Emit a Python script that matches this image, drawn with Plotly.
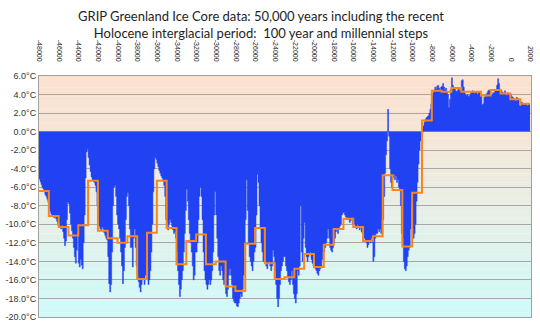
import plotly.graph_objects as go

# ---------------- data ----------------
start_year = -48000
step_years = 100

# 100-year mean temperatures (°C), one row per millennium
temp_100yr = [
    -5.1, -5.4, -5.7, -6.0, -6.2, -6.5, -6.8, -7.0, -7.3, -7.6,
    -8.2, -8.6, -8.9, -9.1, -9.0, -9.3, -9.1, -9.4, -9.7, -10.0,
    -9.8, -10.2, -10.5, -10.1, -10.8, -11.5, -12.3, -11.8, -9.5, -7.6,
    -7.8, -8.8, -10.0, -10.7, -11.5, -12.5, -13.5, -14.2, -12.8, -11.0,
    -14.2, -14.6, -13.8, -14.4, -14.8, -12.0, -9.0, -5.0, -2.2, -1.9,
    -2.8, -3.6, -4.3, -4.9, -5.2, -5.4, -5.5, -5.8, -6.5, -8.0,
    -9.6, -10.2, -10.5, -10.6, -10.3, -10.5, -10.9, -11.2, -11.5, -11.7,
    -13.5, -16.4, -17.3, -16.5, -13.0, -8.0, -6.0, -5.8, -7.0, -9.0,
    -10.0, -10.5, -11.5, -13.0, -14.5, -16.4, -15.0, -12.5, -9.5, -7.0,
    -6.6, -8.0, -10.5, -12.5, -12.5, -14.6, -11.5, -10.5, -12.5, -14.5,
    -15.5, -16.2, -16.8, -17.3, -16.5, -16.0, -15.8, -16.5, -15.5, -13.5,
    -16.0, -16.5, -16.0, -15.0, -13.0, -10.0, -6.5, -4.0, -2.8, -3.0,
    -3.4, -3.8, -4.2, -4.5, -4.8, -5.0, -5.3, -5.8, -7.0, -9.5,
    -9.8, -10.6, -10.0, -9.5, -9.8, -10.2, -10.6, -11.0, -10.8, -11.5,
    -13.0, -15.0, -16.5, -17.8, -17.0, -16.0, -15.0, -13.0, -11.0, -8.5,
    -6.2, -7.5, -9.5, -11.0, -12.0, -13.0, -14.5, -16.0, -15.5, -13.0,
    -13.0, -12.0, -9.5, -7.0, -6.0, -7.0, -9.5, -13.0, -15.0, -16.0,
    -16.5, -17.0, -16.5, -16.0, -16.5, -16.0, -15.0, -13.0, -9.0, -6.5,
    -9.0, -11.5, -13.5, -15.0, -15.5, -14.5, -15.0, -16.0, -16.5, -15.5,
    -17.5, -17.8, -17.0, -15.5, -14.8, -15.5, -16.5, -18.0, -18.3, -18.5,
    -18.5, -18.8, -18.9, -18.5, -18.0, -17.5, -17.8, -17.0, -15.5, -12.0,
    -9.5, -5.2, -8.5, -12.0, -13.5, -14.0, -14.5, -15.0, -14.0, -13.0,
    -12.5, -9.0, -4.6, -5.5, -8.0, -10.5, -12.0, -13.0, -14.0, -14.0,
    -14.0, -14.5, -14.8, -14.2, -14.0, -14.5, -15.0, -14.5, -12.8, -13.5,
    -15.0, -16.5, -18.0, -18.9, -18.0, -16.5, -15.0, -14.5, -14.0, -13.5,
    -13.5, -14.5, -15.0, -15.8, -16.2, -16.5, -16.0, -15.0, -16.5, -17.5,
    -18.0, -18.5, -17.5, -15.0, -15.5, -14.5, -8.0, -13.0, -14.0, -11.5,
    -9.8, -12.5, -13.5, -14.0, -13.5, -13.2, -13.0, -13.8, -14.2, -14.5,
    -14.2, -14.8, -15.0, -15.3, -15.5, -15.0, -14.8, -14.5, -13.8, -13.0,
    -13.0, -12.5, -12.0, -11.5, -10.5, -11.5, -12.5, -12.8, -13.0, -12.5,
    -12.0, -11.5, -10.8, -10.5, -11.0, -10.5, -10.2, -10.0, -9.0, -8.8,
    -8.7, -9.0, -9.2, -9.5, -9.3, -9.5, -9.8, -9.6, -9.3, -10.0,
    -9.8, -10.0, -10.2, -10.5, -10.0, -10.3, -10.6, -10.2, -10.8, -11.0,
    -11.0, -11.5, -11.8, -12.0, -12.5, -12.2, -11.8, -12.0, -11.5, -12.0,
    -14.0, -13.5, -11.5, -11.0, -11.0, -10.5, -10.8, -10.5, -11.0, -9.5,
    -9.5, -7.0, -4.5, -2.5, -1.0, 2.4, -0.5, -4.0, -5.5, -6.0,
    -5.0, -4.6, -5.2, -4.8, -5.5, -5.2, -6.0, -6.2, -8.0, -11.0,
    -11.5, -14.0, -14.8, -15.0, -14.5, -13.5, -12.8, -12.5, -10.5, -8.0,
    -10.5, -11.5, -11.0, -10.0, -7.5, -5.5, -3.5, -2.0, -1.0, -0.3,
    -0.2, 0.6, 1.0, 1.3, 1.5, 1.6, 1.7, 2.0, 2.4, 3.0,
    3.8, 4.2, 4.5, 4.8, 4.6, 4.9, 5.0, 4.7, 4.4, 4.8,
    4.9, 5.2, 4.8, 4.5, 4.7, 4.3, 4.0, 2.6, 3.5, 4.6,
    5.8, 5.0, 4.7, 4.6, 4.4, 4.3, 4.5, 4.6, 4.4, 4.5,
    5.5, 5.6, 4.8, 4.2, 4.0, 3.9, 4.0, 3.8, 3.9, 4.1,
    4.2, 4.4, 4.3, 4.1, 4.2, 4.3, 4.0, 4.2, 4.3, 4.1,
    3.8, 2.9, 3.0, 3.7, 3.8, 4.0, 4.2, 4.4, 4.5, 4.4,
    4.0, 4.0, 4.2, 4.2, 4.4, 4.5, 5.0, 5.7, 5.2, 4.6,
    4.5, 4.3, 4.2, 4.1, 4.4, 4.0, 3.9, 4.2, 4.0, 3.8,
    4.0, 3.8, 3.7, 3.6, 3.5, 3.3, 3.7, 3.6, 3.4, 2.8,
    2.8, 3.2, 3.1, 3.0, 2.9, 3.0, 2.9, 2.8, 2.9, 3.0,
]

# millennial means (°C), one per 1000-year step starting at -48000
millennial_years = 1000
millennial_mean = [
    -6.4, -9.1, -10.3, -11.2, -10.1, -5.3, -10.7, -11.5, -12.0, -11.3,
    -15.9, -10.9, -5.3, -10.4, -14.3, -11.8, -11.1, -14.3, -14.0, -16.7,
    -17.2, -12.1, -10.4, -14.2, -15.9, -15.7, -14.8, -13.2, -14.6, -12.2,
    -10.5, -9.4, -10.3, -11.8, -11.3, -4.7, -6.3, -12.4, -6.6, 1.2,
    4.4, 4.3, 4.7, 4.3, 4.3, 3.9, 4.5, 4.1, 3.5, 3.0,
]

xtick_years = list(range(-48000, 2001, 2000))
xtick_labels = [str(v) for v in xtick_years]
ytick_values = list(range(-20, 7, 2))
ytick_labels = [f"{v:.1f}°C" for v in ytick_values]

title_lines = [
    "GRIP Greenland Ice Core data: 50,000 years including the recent",
    "Holocene interglacial period:\u00a0 100 year and millennial steps",
]

# ---------------- figure ----------------
years = [start_year + step_years * i for i in range(len(temp_100yr))]
half = step_years / 2

area_x = [y - half for y in years] + [years[-1] + half]
area_y = temp_100yr + [temp_100yr[-1]]

mill_x = [start_year + millennial_years * k - half for k in range(len(millennial_mean))] + [years[-1] + half]
mill_y = millennial_mean + [millennial_mean[-1]]

BLUE = "#2142f2"
ORANGE = "#f7861e"

fig = go.Figure()
fig.add_trace(go.Scatter(
    x=area_x, y=area_y, mode="lines",
    line=dict(shape="hv", width=0.5, color=BLUE),
    fill="tozeroy", fillcolor=BLUE, hoverinfo="skip",
))
fig.add_trace(go.Scatter(
    x=mill_x, y=mill_y, mode="lines",
    line=dict(shape="hv", width=2, color=ORANGE),
    hoverinfo="skip",
))

# vertical gradient background (peach at top -> pale cyan at bottom)
stops = [(6, (251, 224, 206)), (0, (247, 229, 214)), (-10, (228, 240, 232)), (-20, (206, 250, 250))]
def col_at(v):
    for (v0, c0), (v1, c1) in zip(stops[:-1], stops[1:]):
        if v1 <= v <= v0:
            t = (v0 - v) / (v0 - v1)
            return "rgb(%d,%d,%d)" % tuple(round(a + (b - a) * t) for a, b in zip(c0, c1))
    return "rgb(%d,%d,%d)" % stops[-1][1]

shapes = []
band = 0.25
n_bands = int(round((6 - (-20)) / band))
for j in range(n_bands):
    top = 6 - j * band
    bot = top - band
    shapes.append(dict(type="rect", xref="paper", yref="y", x0=0, x1=1, y0=bot, y1=top + 0.02,
                       fillcolor=col_at((top + bot) / 2), line=dict(width=0), layer="below"))

fig.update_layout(
    width=540, height=328,
    margin=dict(l=37, r=6, t=76, b=8),
    paper_bgcolor="white",
    plot_bgcolor="rgba(0,0,0,0)",
    showlegend=False,
    shapes=shapes,
    annotations=[dict(
        text="<br>".join(title_lines),
        xref="paper", yref="paper", x=0.452, y=1.213,
        xanchor="center", yanchor="middle", showarrow=False, align="center",
        font=dict(family="Lato", size=13, color="#1e1e1e"),
    )],
    xaxis=dict(
        range=[-48050, 2050], side="top",
        tickmode="array", tickvals=xtick_years, ticktext=xtick_labels,
        tickangle=90, tickfont=dict(family="Liberation Sans", size=7, color="#222222"),
        showgrid=False, zeroline=False,
        showline=True, mirror=True, linecolor="#a0a0a0", linewidth=1,
        ticks="", ticklabelstandoff=11,
    ),
    yaxis=dict(
        range=[-20, 6],
        tickmode="array", tickvals=ytick_values, ticktext=ytick_labels,
        tickfont=dict(family="Liberation Sans", size=9, color="#333333"),
        showgrid=True, gridcolor="#a8a8a8", gridwidth=1, zeroline=False,
        showline=True, mirror=True, linecolor="#a0a0a0", linewidth=1,
        ticks="",
    ),
)

fig.write_html("out.html")
